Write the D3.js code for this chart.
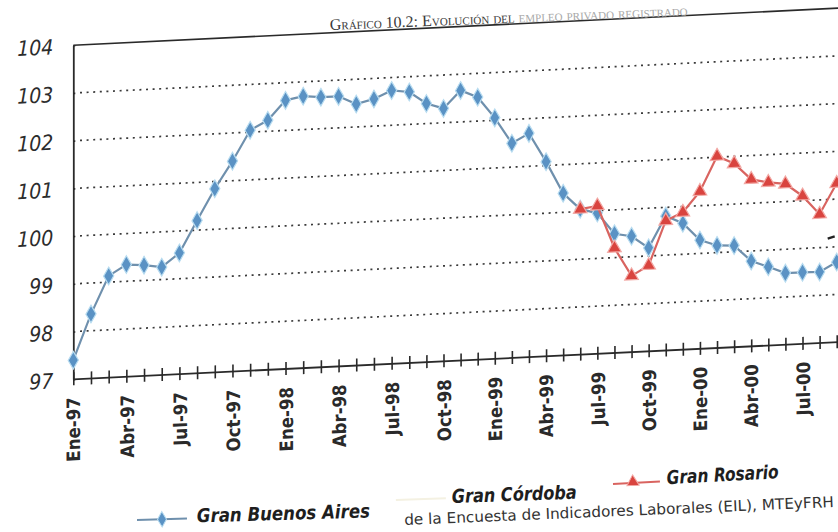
<!DOCTYPE html>
<html><head><meta charset="utf-8">
<script src="https://cdn.jsdelivr.net/npm/d3@7"></script>
<style>
html,body{margin:0;padding:0;background:#fff;}
svg{display:block;}
</style></head><body>
<svg id="chart" width="838" height="532"></svg>
<script>
// ---- data ----
const months = [
  "Ene-97","Feb-97","Mar-97","Abr-97","May-97","Jun-97","Jul-97","Ago-97","Sep-97","Oct-97","Nov-97","Dic-97",
  "Ene-98","Feb-98","Mar-98","Abr-98","May-98","Jun-98","Jul-98","Ago-98","Sep-98","Oct-98","Nov-98","Dic-98",
  "Ene-99","Feb-99","Mar-99","Abr-99","May-99","Jun-99","Jul-99","Ago-99","Sep-99","Oct-99","Nov-99","Dic-99",
  "Ene-00","Feb-00","Mar-00","Abr-00","May-00","Jun-00","Jul-00","Ago-00","Sep-00","Oct-00","Nov-00","Dic-00"
];
const tickLabels = ["Ene-97","Abr-97","Jul-97","Oct-97","Ene-98","Abr-98","Jul-98","Oct-98",
  "Ene-99","Abr-99","Jul-99","Oct-99","Ene-00","Abr-00","Jul-00"];
const yTicks = [97, 98, 99, 100, 101, 102, 103, 104];
const granBuenosAires = [
  97.40, 98.35, 99.13, 99.35, 99.32, 99.26, 99.54, 100.20, 100.85, 101.41, 102.04, 102.23,
  102.63, 102.70, 102.66, 102.66, 102.48, 102.57, 102.73, 102.68, 102.42, 102.30, 102.66, 102.50,
  102.05, 101.50, 101.69, 101.08, 100.40, 100.05, 99.95, 99.50, 99.43, 99.17, 99.82, 99.65,
  99.28, 99.15, 99.13, 98.79, 98.65, 98.50, 98.50, 98.49, 98.68
];
const granRosario = [
  null,null,null,null,null,null,null,null,null,null,null,null,
  null,null,null,null,null,null,null,null,null,null,null,null,
  null,null,null,null,null, 100.05, 100.10, 99.20, 98.60, 98.80, 99.72, 99.88,
  100.30, 101.02, 100.85, 100.50, 100.42, 100.37, 100.10, 99.70, 100.33
];
const granCordoba = [
  null,null,null,null,null,null,null,null,null,null,null,null,
  null,null,null,null,null,null,null,null,null,null,null,null,
  null,null,null,null,null,null,null,null,null,null,null,null,
  null,null,null,null,null,null,null,null, 99.20
];
const seriesNames = ["Gran Buenos Aires", "Gran Córdoba", "Gran Rosario"];
const titleMain = "Gráfico 10.2: Evolución del";
const titleRest = "empleo privado registrado";
const sourceText = "de la Encuesta de Indicadores Laborales (EIL), MTEyFRH";

// ---- drawing ----
const svg = d3.select("#chart");
const x = d3.scaleLinear().domain([0, 19, 44]).range([73.3, 409.3, 836.7]);
const y = d3.scaleLinear().domain([97, 104]).range([361, 27]);

// photographed page is slightly sheared
const plot = svg.append("g")
  .attr("transform", "translate(450,0) skewY(-2.78) translate(-450,0)");

// dotted gridlines
plot.append("g").selectAll("line")
  .data(yTicks.filter(v => v > 97 && v < 104))
  .join("line")
  .attr("x1", 80).attr("x2", 900)
  .attr("y1", d => y(d)).attr("y2", d => y(d))
  .attr("stroke", "#3a3a3a").attr("stroke-width", 1.7)
  .attr("stroke-dasharray", "2,4.6");

// top border at 104
plot.append("line")
  .attr("x1", x(0)).attr("x2", 900)
  .attr("y1", y(104)).attr("y2", y(104))
  .attr("stroke", "#2a2a2a").attr("stroke-width", 1.6);

// y axis
const yAxis = plot.append("g")
  .attr("transform", `translate(${x(0)},0)`)
  .call(d3.axisLeft(y).tickValues(yTicks).tickFormat(d3.format("d"))
    .tickSize(8).tickSizeOuter(0).tickPadding(12));
yAxis.select(".domain").attr("stroke", "#2a2a2a").attr("stroke-width", 1.8);
yAxis.selectAll(".tick line").attr("x2", 2).attr("stroke", "#2a2a2a").attr("stroke-width", 1.6);
yAxis.selectAll(".tick text")
  .attr("font-family", "'DejaVu Sans Condensed','DejaVu Sans',sans-serif")
  .attr("font-style", "italic").attr("font-size", 21).attr("fill", "#2c2c2c")
  .attr("dy", "0.36em");

// x axis
const xAxis = plot.append("g")
  .attr("transform", `translate(0,${y(97)})`)
  .call(d3.axisBottom(x).tickValues(d3.range(months.length)).tickSize(6).tickSizeOuter(0)
    .tickFormat(i => tickLabels.includes(months[i]) ? months[i] : ""));
xAxis.select(".domain").remove();
xAxis.append("line").attr("x1", x(0)).attr("x2", 900).attr("y1", 0).attr("y2", 0)
  .attr("stroke", "#2a2a2a").attr("stroke-width", 1.8);
xAxis.selectAll(".tick line").attr("y1", -7).attr("y2", 6)
  .attr("stroke", "#2a2a2a").attr("stroke-width", 1.6);
xAxis.selectAll(".tick text")
  .attr("transform", "rotate(-90)")
  .attr("x", -18).attr("y", 0).attr("dy", "0.36em")
  .attr("text-anchor", "end")
  .attr("font-family", "'DejaVu Sans Condensed','DejaVu Sans',sans-serif")
  .attr("font-weight", "bold").attr("font-size", 18.5).attr("fill", "#2a2a2a");

// series
function drawSeries(values, lineColor, fillColor, haloColor, symbolType, size) {
  const pts = values.map((v, i) => ({i, v})).filter(d => d.v !== null);
  plot.append("path").datum(pts)
    .attr("fill", "none").attr("stroke", lineColor).attr("stroke-width", 2.2)
    .attr("d", d3.line().x(d => x(d.i)).y(d => y(d.v)));
  plot.append("g").selectAll("path").data(pts).join("path")
    .attr("transform", d => `translate(${x(d.i)},${y(d.v)})`)
    .attr("d", d3.symbol().type(symbolType).size(size))
    .attr("fill", fillColor).attr("stroke", haloColor).attr("stroke-width", 1.2);
}
drawSeries(granBuenosAires, "#6f90ad", "#5a92c4", "#b8dcf0", d3.symbolDiamond, 90);
drawSeries(granRosario, "#d96460", "#d9443f", "#f2a8a4", d3.symbolTriangle, 80);

// Gran Córdoba: only a small dark mark visible at the edge
plot.append("g").selectAll("line")
  .data(granCordoba.map((v, i) => ({i, v})).filter(d => d.v !== null))
  .join("line")
  .attr("x1", d => x(d.i) - 9).attr("x2", d => x(d.i) - 2)
  .attr("y1", d => y(d.v) + 1).attr("y2", d => y(d.v) - 1)
  .attr("stroke", "#222").attr("stroke-width", 2.5);

// legend
const legendFont = "'DejaVu Sans Condensed','DejaVu Sans',sans-serif";
const lg1 = svg.append("g").attr("transform", "translate(137,520) rotate(-1.6)");
lg1.append("line").attr("x1", 0).attr("x2", 50).attr("stroke", "#6f90ad").attr("stroke-width", 2);
lg1.append("path").attr("transform", "translate(25,0)")
  .attr("d", d3.symbol().type(d3.symbolDiamond).size(70)).attr("fill", "#5a92c4")
  .attr("stroke", "#b8dcf0").attr("stroke-width", 1);
lg1.append("text").attr("x", 60).attr("y", 4).text(seriesNames[0])
  .attr("font-family", legendFont).attr("font-weight", "bold").attr("font-style", "italic")
  .attr("font-size", 19).attr("fill", "#1e1e1e").attr("textLength", 173).attr("lengthAdjust", "spacingAndGlyphs");

const lg2 = svg.append("g").attr("transform", "translate(452,503) rotate(-2)");
lg2.append("line").attr("x1", -56).attr("x2", -6).attr("y1", -5).attr("y2", -5)
  .attr("stroke", "#f4f1e2").attr("stroke-width", 2);
lg2.append("text").attr("x", 0).attr("y", 0).text(seriesNames[1])
  .attr("font-family", legendFont).attr("font-weight", "bold").attr("font-style", "italic")
  .attr("font-size", 19).attr("fill", "#1e1e1e").attr("textLength", 125).attr("lengthAdjust", "spacingAndGlyphs");

const lg3 = svg.append("g").attr("transform", "translate(613,484) rotate(-3)");
lg3.append("line").attr("x1", 0).attr("x2", 47).attr("stroke", "#d96460").attr("stroke-width", 2);
lg3.append("path").attr("transform", "translate(20,-1)")
  .attr("d", d3.symbol().type(d3.symbolTriangle).size(65)).attr("fill", "#d9443f")
  .attr("stroke", "#f2a8a4").attr("stroke-width", 1);
lg3.append("text").attr("x", 54).attr("y", 3).text(seriesNames[2])
  .attr("font-family", legendFont).attr("font-weight", "bold").attr("font-style", "italic")
  .attr("font-size", 19).attr("fill", "#1e1e1e").attr("textLength", 112).attr("lengthAdjust", "spacingAndGlyphs");

// title (latter part faded)
const title = svg.append("text")
  .attr("transform", "translate(330,30) rotate(-2.3)")
  .attr("font-family", "'Liberation Serif','DejaVu Serif',serif")
  .attr("font-variant", "small-caps").attr("font-size", 16);
title.append("tspan").text(titleMain).attr("fill", "#3a3a3a");
title.append("tspan").text(" " + titleRest).attr("fill", "#a8a8a8");

// source line (bottom right)
svg.append("text")
  .attr("transform", "translate(834,507) rotate(-2.4)")
  .attr("text-anchor", "end")
  .attr("font-family", "'DejaVu Sans Condensed','DejaVu Sans',sans-serif")
  .attr("font-size", 15).attr("fill", "#333")
  .attr("textLength", 430).attr("lengthAdjust", "spacingAndGlyphs")
  .text(sourceText);
</script>
</body></html>
